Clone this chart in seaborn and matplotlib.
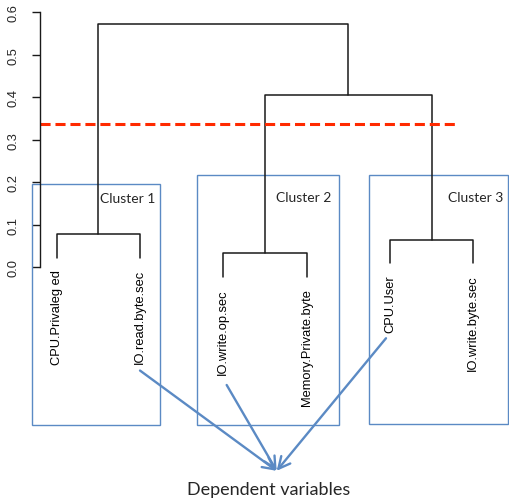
import numpy as np
import pandas as pd
import matplotlib.pyplot as plt
import matplotlib.patches as patches
import seaborn as sns

# leaves of the dendrogram (left to right)
leaf_names = ["CPU.Privaleg ed", "IO.read.byte.sec", "IO.write.op.sec",
              "Memory.Private.byte", "CPU.User", "IO.write.byte.sec"]
# merges: node ids 0-5 are leaves, 6.. are merges in this order
merge_left = [0, 2, 4, 7, 6]
merge_right = [1, 3, 5, 8, 9]
merge_height = [0.078, 0.033, 0.065, 0.406, 0.5725]
hang = 0.055
cut_height = 0.337
cluster_names = ["Cluster 1", "Cluster 2", "Cluster 3"]
y_ticks = [0.0, 0.1, 0.2, 0.3, 0.4, 0.5, 0.6]

sns.set_theme(style="ticks")
plt.rcParams['font.family'] = ['Liberation Sans', 'DejaVu Sans']

# build node positions
n = len(leaf_names)
node_x = list(np.arange(1, n + 1, dtype=float))
node_h = [None] * n
for l, r, h in zip(merge_left, merge_right, merge_height):
    node_x.append((node_x[l] + node_x[r]) / 2)
    node_h.append(h)
# leaf ends hang below their parent
for l, r, h in zip(merge_left, merge_right, merge_height):
    for c in (l, r):
        if c < n:
            node_h[c] = h - hang

rows = []
for k, (l, r, h) in enumerate(zip(merge_left, merge_right, merge_height)):
    pts = [(node_x[l], node_h[l]), (node_x[l], h), (node_x[r], h), (node_x[r], node_h[r])]
    for i, (x, y) in enumerate(pts):
        rows.append({"seg": k, "order": i, "x": x, "y": y})
segs = pd.DataFrame(rows)

fig = plt.figure(figsize=(5.09, 5.02), dpi=100)
ax = fig.add_axes([0, 0, 1, 1])

sns.lineplot(data=segs, x="x", y="y", units="seg", estimator=None, sort=False,
             color="#1a1a1a", lw=1.1, ax=ax, legend=False)
ax.set_xlim(0.32, 6.428)
ax.set_ylim(-0.55, 0.6313)

# leaf labels
for xi, name, h in zip(node_x[:n], leaf_names, node_h[:n]):
    ax.text(xi, h - 0.027, name, rotation=90, ha="center", va="top", fontsize=9.3, color="black")

# cut line
ax.hlines(cut_height, 0.8, 5.78, colors="#ff2a00", lw=2.2, linestyles=(0, (3.3, 1.6)))

# y axis like R
for s in ["top", "right", "bottom"]:
    ax.spines[s].set_visible(False)
ax.spines["left"].set_position(("data", 0.8))
ax.spines["left"].set_bounds(0, 0.6)
ax.spines["left"].set_color("#1a1a1a")
ax.spines["left"].set_linewidth(1.0)
ax.set_xlabel("")
ax.set_ylabel("")
ax.set_xticks([])
ax.set_yticks(y_ticks)
ax.set_yticklabels([f"{t:.1f}" for t in y_ticks], rotation=90, va="center")
ax.tick_params(axis="y", left=True, direction="out", length=6, width=1.0,
               color="#1a1a1a", pad=9, labelsize=9.3)

# cluster boxes and labels
box_color = "#5b8ac4"
boxes = [(0.70, -0.371, 2.24, 0.196), (2.687, -0.370, 4.391, 0.217), (4.751, -0.369, 6.412, 0.217)]
label_pos = [(1.52, 0.163), (3.632, 0.165), (5.696, 0.165)]
for (x0, y0, x1, y1), name, (tx, ty) in zip(boxes, cluster_names, label_pos):
    ax.add_patch(patches.Rectangle((x0, y0), x1 - x0, y1 - y0, fill=False,
                                   edgecolor=box_color, lw=1.0))
    ax.text(tx, ty, name, ha="left", va="center", fontsize=10, family=["Lato", "DejaVu Sans"])

# arrows to "Dependent variables"
tip = (3.64, -0.479)
for start in [(2.0, -0.243), (3.04, -0.277), (4.952, -0.167)]:
    ax.annotate("", xy=tip, xytext=start,
                arrowprops=dict(arrowstyle="->,head_length=0.7,head_width=0.35",
                                color=box_color, lw=1.7, shrinkA=0, shrinkB=0))
ax.text(3.54, -0.522, "Dependent variables", ha="center", va="center", fontsize=13,
        family=["Lato", "DejaVu Sans"])

fig.savefig("out.png", dpi=100)
